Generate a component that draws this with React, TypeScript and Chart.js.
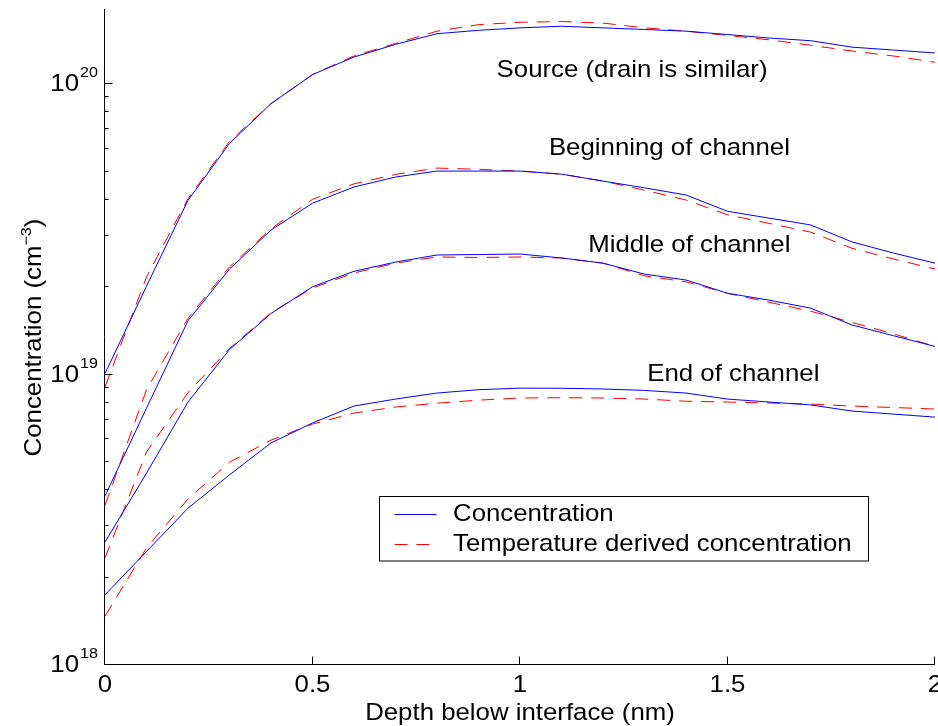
import { useEffect, useRef } from "react";
import { Chart, registerables } from "chart.js";

Chart.register(...registerables);

// Depth below the interface (nm)
const depth = [0, 0.1, 0.2, 0.3, 0.4, 0.5, 0.6, 0.7, 0.8, 0.9, 1.0, 1.1, 1.2, 1.3, 1.4, 1.5, 1.6, 1.7, 1.8, 1.9, 2.0];

// Source (drain is similar)
const sourceConc = [1.0e19, 2.0e19, 3.95e19, 6.2e19, 8.5e19, 1.07e20, 1.23e20, 1.36e20, 1.48e20, 1.52e20, 1.55e20, 1.57e20, 1.55e20, 1.53e20, 1.51e20, 1.47e20, 1.43e20, 1.40e20, 1.33e20, 1.30e20, 1.27e20];
const sourceTemp = [9.0e18, 2.15e19, 4.0e19, 6.3e19, 8.5e19, 1.07e20, 1.24e20, 1.37e20, 1.51e20, 1.59e20, 1.62e20, 1.63e20, 1.61e20, 1.55e20, 1.51e20, 1.46e20, 1.41e20, 1.35e20, 1.29e20, 1.24e20, 1.18e20];

// Beginning of channel
const beginConc = [3.79e18, 7.6e18, 1.52e19, 2.29e19, 3.12e19, 3.86e19, 4.39e19, 4.75e19, 4.98e19, 4.98e19, 4.98e19, 4.86e19, 4.6e19, 4.36e19, 4.12e19, 3.62e19, 3.43e19, 3.25e19, 2.84e19, 2.6e19, 2.4e19];
const beginTemp = [3.52e18, 8.8e18, 1.55e19, 2.33e19, 3.15e19, 3.98e19, 4.5e19, 4.85e19, 5.1e19, 5.05e19, 4.98e19, 4.86e19, 4.6e19, 4.28e19, 3.96e19, 3.52e19, 3.29e19, 3.07e19, 2.7e19, 2.48e19, 2.29e19];

// Middle of channel
const middleConc = [2.63e18, 4.54e18, 7.98e18, 1.21e19, 1.61e19, 1.99e19, 2.25e19, 2.42e19, 2.56e19, 2.57e19, 2.58e19, 2.5e19, 2.4e19, 2.2e19, 2.1e19, 1.89e19, 1.79e19, 1.68e19, 1.47e19, 1.35e19, 1.24e19];
const middleTemp = [2.32e18, 5.37e18, 8.6e18, 1.22e19, 1.62e19, 1.97e19, 2.22e19, 2.4e19, 2.52e19, 2.51e19, 2.52e19, 2.5e19, 2.4e19, 2.17e19, 2.07e19, 1.89e19, 1.76e19, 1.64e19, 1.5e19, 1.37e19, 1.24e19];

// End of channel
const endConc = [1.73e18, 2.44e18, 3.44e18, 4.48e18, 5.77e18, 6.76e18, 7.73e18, 8.17e18, 8.57e18, 8.8e18, 8.91e18, 8.9e18, 8.85e18, 8.75e18, 8.57e18, 8.17e18, 7.98e18, 7.8e18, 7.43e18, 7.25e18, 7.08e18];
const endTemp = [1.46e18, 2.51e18, 3.7e18, 4.95e18, 5.9e18, 6.7e18, 7.31e18, 7.67e18, 7.91e18, 8.1e18, 8.24e18, 8.26e18, 8.24e18, 8.17e18, 8.03e18, 7.98e18, 7.92e18, 7.85e18, 7.73e18, 7.64e18, 7.55e18];

// Axis ticks
const xTicks = [0, 0.5, 1, 1.5, 2];
const xTickLabels = ["0", "0.5", "1", "1.5", "2"];
const yDecades = [18, 19, 20];

const seriesNames = ["Concentration", "Temperature derived concentration"];
const curveNames = ["Source (drain is similar)", "Beginning of channel", "Middle of channel", "End of channel"];
// Where each curve name sits, in data units (depth, concentration)
const curveNameAnchors: [number, number][] = [
  [1.27, 1.11e20],
  [1.36, 5.97e19],
  [1.408, 2.77e19],
  [1.514, 9.9e18],
];

const FONT = '"Liberation Sans", Arial, Helvetica, sans-serif';
const STRETCH = 1.075;
const BLUE = "#0000ff";
const RED = "#ff0000";
const DASH = [13, 9];

function textWidth(ctx: CanvasRenderingContext2D, text: string, size: number) {
  ctx.font = `${size}px ${FONT}`;
  return ctx.measureText(text).width * STRETCH;
}

// Draws text stretched horizontally along its own direction
function drawText(
  ctx: CanvasRenderingContext2D,
  text: string,
  x: number,
  y: number,
  size: number,
  align: "left" | "center" | "right" = "left",
  baseline: CanvasTextBaseline = "middle"
) {
  const w = textWidth(ctx, text, size);
  const left = align === "center" ? x - w / 2 : align === "right" ? x - w : x;
  ctx.save();
  ctx.font = `${size}px ${FONT}`;
  ctx.textAlign = "left";
  ctx.textBaseline = baseline;
  ctx.translate(left, y);
  ctx.scale(STRETCH, 1);
  ctx.fillText(text, 0, 0);
  ctx.restore();
  return w;
}

const figurePlugin = {
  id: "figureDecor",
  afterDatasetsDraw(chart: any) {
    const ctx: CanvasRenderingContext2D = chart.ctx;
    const xs = chart.scales.x;
    const ys = chart.scales.y;
    const { left, right, top, bottom } = chart.chartArea;
    const L = Math.round(left) - 0.5;
    const B = Math.round(bottom) + 0.5;

    ctx.save();
    ctx.fillStyle = "#000";
    ctx.strokeStyle = "#000";
    ctx.lineWidth = 1;

    // axis lines (left and bottom only)
    ctx.beginPath();
    ctx.moveTo(L, top);
    ctx.lineTo(L, B);
    ctx.lineTo(right, B);
    ctx.stroke();

    // y ticks: decades and minor ticks, pointing inwards
    ctx.beginPath();
    const yMax = ys.max;
    yDecades.forEach((d) => {
      const base = Math.pow(10, d);
      const py = Math.round(ys.getPixelForValue(base)) + 0.5;
      ctx.moveTo(L, py);
      ctx.lineTo(L + 8, py);
      for (let m = 2; m <= 9; m++) {
        const v = m * base;
        if (v > yMax) break;
        const my = Math.round(ys.getPixelForValue(v)) + 0.5;
        ctx.moveTo(L, my);
        ctx.lineTo(L + 4, my);
      }
    });
    // x ticks
    xTicks.forEach((t) => {
      const px = Math.round(xs.getPixelForValue(t)) - 0.5;
      ctx.moveTo(px, B);
      ctx.lineTo(px, B - 8);
    });
    ctx.stroke();

    // y tick labels as powers of ten
    yDecades.forEach((d) => {
      const py = ys.getPixelForValue(Math.pow(10, d));
      const supW = drawText(ctx, String(d), left - 7, py - 10, 15, "right");
      drawText(ctx, "10", left - 7 - supW - 1, py + 1.5, 24, "right");
    });

    // x tick labels
    xTicks.forEach((t, i) => {
      drawText(ctx, xTickLabels[i], xs.getPixelForValue(t), bottom + 21, 24, "center");
    });

    // x axis title
    drawText(ctx, "Depth below interface (nm)", (left + right) / 2, bottom + 49, 24, "center");

    // y axis title, rotated, with superscript
    {
      const main = "Concentration (cm";
      const sup = "\u22123";
      const close = ")";
      const w1 = textWidth(ctx, main, 24);
      const w2 = textWidth(ctx, sup, 15);
      const w3 = textWidth(ctx, close, 24);
      const total = w1 + w2 + w3;
      ctx.save();
      ctx.translate(41, (top + bottom) / 2 + 1);
      ctx.rotate(-Math.PI / 2);
      let x = -total / 2;
      drawText(ctx, main, x, 0, 24, "left", "alphabetic");
      x += w1;
      drawText(ctx, sup, x, -10, 15, "left", "alphabetic");
      x += w2;
      drawText(ctx, close, x, 0, 24, "left", "alphabetic");
      ctx.restore();
    }

    // curve names
    curveNames.forEach((name, i) => {
      const [dx, dy] = curveNameAnchors[i];
      drawText(ctx, name, xs.getPixelForValue(dx), ys.getPixelForValue(dy), 24, "center");
    });

    // legend box
    const bx = 379.5;
    const by = 496.5;
    const bw = 489;
    const bh = 64.5;
    ctx.fillStyle = "#fff";
    ctx.fillRect(bx, by, bw, bh);
    ctx.strokeRect(bx, by, bw, bh);
    const rowY = [by + 17, by + 47];
    const colors = [BLUE, RED];
    seriesNames.forEach((name, i) => {
      ctx.save();
      ctx.strokeStyle = colors[i];
      ctx.lineWidth = 1;
      ctx.setLineDash(i === 1 ? DASH : []);
      ctx.beginPath();
      ctx.moveTo(bx + 15, Math.round(rowY[i]) + 0.5);
      ctx.lineTo(bx + 57, Math.round(rowY[i]) + 0.5);
      ctx.stroke();
      ctx.restore();
      ctx.fillStyle = "#000";
      drawText(ctx, name, bx + 73.5, rowY[i] + 1, 24, "left");
    });

    ctx.restore();
  },
};

function pts(values: number[]) {
  return depth.map((x, i) => ({ x, y: values[i] }));
}

export default function App() {
  const canvasRef = useRef<HTMLCanvasElement | null>(null);

  useEffect(() => {
    const canvas = canvasRef.current;
    if (!canvas) return;
    const solid = (label: string, values: number[]) => ({
      label,
      data: pts(values),
      borderColor: BLUE,
      borderWidth: 1,
      pointRadius: 0,
      fill: false,
      tension: 0,
    });
    const dashed = (label: string, values: number[]) => ({
      label,
      data: pts(values),
      borderColor: RED,
      borderWidth: 1,
      borderDash: DASH,
      pointRadius: 0,
      fill: false,
      tension: 0,
    });
    const chart = new Chart(canvas, {
      type: "line",
      data: {
        datasets: [
          solid("Source", sourceConc),
          solid("Beginning", beginConc),
          solid("Middle", middleConc),
          solid("End", endConc),
          dashed("Source (T)", sourceTemp),
          dashed("Beginning (T)", beginTemp),
          dashed("Middle (T)", middleTemp),
          dashed("End (T)", endTemp),
        ],
      },
      options: {
        animation: false,
        responsive: false,
        maintainAspectRatio: false,
        layout: { padding: { left: 105, top: 9, right: 3, bottom: 62 } },
        scales: {
          x: { type: "linear", min: 0, max: 2, display: false },
          y: { type: "logarithmic", min: 1e18, max: 1.8e20, display: false },
        },
        plugins: {
          legend: { display: false },
          tooltip: { enabled: false },
        },
      },
      plugins: [figurePlugin],
    } as any);
    return () => chart.destroy();
  }, []);

  return (
    <div style={{ position: "fixed", left: 0, top: 0, width: 938, height: 726, background: "#fff" }}>
      <canvas ref={canvasRef} width={938} height={726} style={{ display: "block" }} />
    </div>
  );
}
